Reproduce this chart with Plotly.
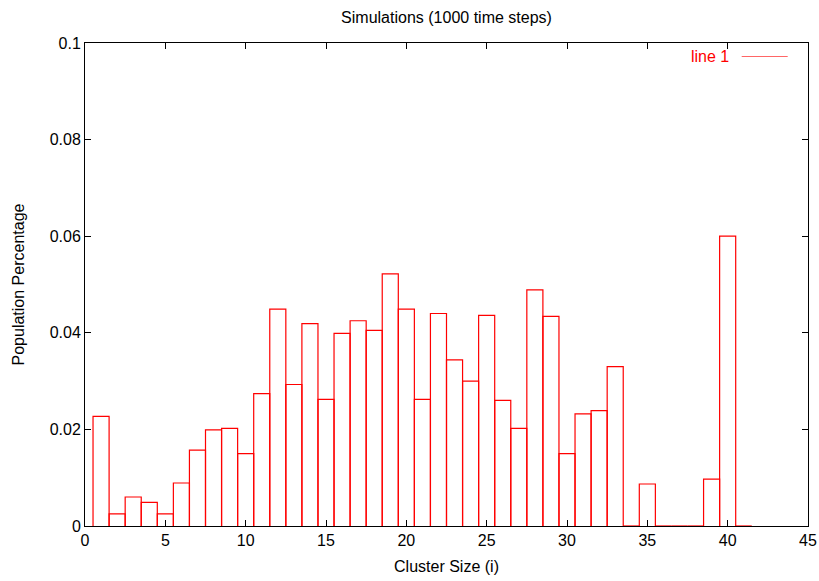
import plotly.graph_objects as go

cluster_size = list(range(1, 42))
population_pct = [
    0.0227, 0.0025, 0.0060, 0.0049, 0.0025, 0.0089, 0.0157, 0.0199, 0.0202, 0.0150,
    0.0274, 0.0449, 0.0293, 0.0419, 0.0262, 0.0399, 0.0425, 0.0405, 0.0522, 0.0449,
    0.0262, 0.0440, 0.0344, 0.0300, 0.0436, 0.0260, 0.0202, 0.0489, 0.0434, 0.0150,
    0.0232, 0.0239, 0.0330, 0.0, 0.0087, 0.0, 0.0, 0.0, 0.0097, 0.0600,
    0.0,
]
x_ticks = [0, 5, 10, 15, 20, 25, 30, 35, 40, 45]
y_ticks = [0, 0.02, 0.04, 0.06, 0.08, 0.1]
y_tick_labels = ["0", "0.02", "0.04", "0.06", "0.08", "0.1"]
box_width = 1.0

RED = "#ff0000"
FONT = "Liberation Sans, Arial, sans-serif"
FS = 16

# gnuplot-style open boxes: left side, top, right side (no bottom edge)
bx, by = [], []
for xv, yv in zip(cluster_size, population_pct):
    x0, x1 = xv - box_width / 2, xv + box_width / 2
    bx += [x0, x0, x1, x1, None]
    by += [0, yv, yv, 0, None]

fig = go.Figure()
fig.add_trace(go.Scatter(
    x=bx, y=by, mode="lines", line=dict(color=RED, width=1.2),
    name="line 1", showlegend=False, cliponaxis=False, hoverinfo="skip",
))

# legend sample line (gnuplot style: text then line)
shapes = [dict(type="line", xref="paper", yref="paper",
               x0=(741.7 - 85) / 723, x1=(787.7 - 85) / 723,
               y0=(526 - 56.5) / 483, y1=(526 - 56.5) / 483,
               line=dict(color="#ff6666", width=1))]

fig.update_layout(
    width=819, height=581,
    margin=dict(l=85, r=11, t=43, b=55),
    paper_bgcolor="white", plot_bgcolor="white",
    font=dict(family=FONT, size=FS, color="black"),
    title=dict(text="Simulations (1000 time steps)", x=(446.5) / 819, xref="container",
               y=1 - 17 / 581, yref="container", yanchor="middle", xanchor="center",
               font=dict(family=FONT, size=FS, color="black")),
    showlegend=False,
    shapes=shapes,
    annotations=[dict(text="line 1", xref="paper", yref="paper",
                      x=(730.5 - 85) / 723, y=(526 - 56.5) / 483,
                      xanchor="right", yanchor="middle", showarrow=False,
                      font=dict(family=FONT, size=FS, color=RED))],
)
fig.update_xaxes(
    range=[0, 45], tickvals=x_ticks, ticks="inside", ticklen=6, tickcolor="black",
    showline=True, linecolor="black", linewidth=1, mirror="ticks", showgrid=False,
    zeroline=False, tickfont=dict(family=FONT, size=FS), automargin=False,
    layer="below traces",
    title=dict(text="Cluster Size (i)", standoff=12, font=dict(family=FONT, size=FS)),
)
fig.update_yaxes(
    range=[0, 0.1], tickvals=y_ticks, ticktext=y_tick_labels, ticks="inside", ticklen=6,
    tickcolor="black", showline=True, linecolor="black", linewidth=1, mirror="ticks",
    showgrid=False, zeroline=False, tickfont=dict(family=FONT, size=FS), automargin=False,
    layer="below traces",
    title=dict(text="Population Percentage", standoff=21, font=dict(family=FONT, size=FS)),
)

fig.write_html("out.html")
